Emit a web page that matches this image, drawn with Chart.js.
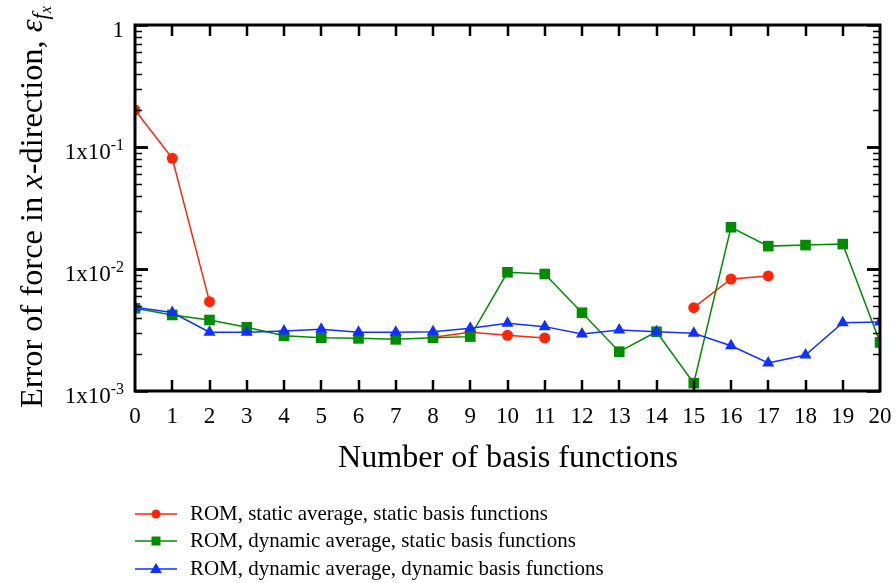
<!DOCTYPE html>
<html>
<head>
<meta charset="utf-8">
<script src="https://cdn.jsdelivr.net/npm/chart.js@4"></script>
<style>
  html, body { margin: 0; padding: 0; background: #fff; }
  canvas { display: block; }
</style>
</head>
<body>
<canvas id="errChart" width="896" height="583"></canvas>
<script>
// number of basis functions on the x axis
const basisCounts = [0, 1, 2, 3, 4, 5, 6, 7, 8, 9, 10, 11, 12, 13, 14, 15, 16, 17, 18, 19, 20];

// error of force in x-direction, one value per basis count (null = no run)
const staticAvgStatic = [0.201, 0.0807, 0.0054, null, null, null, null, null, 0.00276, 0.00303,
    0.00286, 0.00272, null, null, null, 0.00482, 0.00828, 0.00877, null, null, null];
const dynAvgStatic = [0.00476, 0.0042, 0.00382, 0.00333, 0.00284, 0.00273, 0.0027, 0.00265, 0.00273, 0.00279,
    0.0094, 0.0091, 0.00438, 0.0021, 0.00306, 0.00116, 0.022, 0.0154, 0.0157, 0.016, 0.0025];
const dynAvgDyn = [0.00485, 0.0044, 0.00303, 0.00303, 0.0031, 0.0032, 0.00303, 0.00303, 0.00306, 0.00327,
    0.00359, 0.00337, 0.00293, 0.00316, 0.00306, 0.00297, 0.00235, 0.0017, 0.00197, 0.00363, 0.00368];

const seriesLabels = [
    'ROM, static average, static basis functions',
    'ROM, dynamic average, static basis functions',
    'ROM, dynamic average, dynamic basis functions'
];

// y tick labels: mantissa and exponent, '' exponent means plain text
const yTickValues = [1, 0.1, 0.01, 0.001];
const yTickBase = ['1', '1x10', '1x10', '1x10'];
const yTickExp = ['', '-1', '-2', '-3'];

const colors = {
    red: 'rgb(255, 38, 8)',
    green: 'rgb(0, 140, 0)',
    blue: 'rgb(16, 48, 255)'
};

const SERIF = "'Liberation Serif', 'DejaVu Serif', serif";

const toPoints = (values) => basisCounts.map((x, i) => ({ x: x, y: values[i] }));

const datasets = [
    {
        label: seriesLabels[0],
        data: toPoints(staticAvgStatic),
        borderColor: colors.red,
        backgroundColor: colors.red,
        pointStyle: 'circle',
        pointRadius: 5.5,
        order: 3
    },
    {
        label: seriesLabels[1],
        data: toPoints(dynAvgStatic),
        borderColor: colors.green,
        backgroundColor: colors.green,
        pointStyle: 'rect',
        pointRadius: 7.5,
        order: 2
    },
    {
        label: seriesLabels[2],
        data: toPoints(dynAvgDyn),
        borderColor: colors.blue,
        backgroundColor: colors.blue,
        pointStyle: 'triangle',
        pointRadius: 7,
        order: 1
    }
].map(ds => Object.assign(ds, {
    borderWidth: 1.5,
    pointBorderWidth: 0,
    pointHoverRadius: ds.pointRadius,
    spanGaps: false,
    tension: 0,
    clip: 0
}));

// write a string scaled so that it spans the given width
const fitFont = (ctx, text, target, base, style) => {
    ctx.font = `${style || ''} ${base}px ${SERIF}`;
    return base * target / ctx.measureText(text).width;
};

// frame, inward ticks, tick labels, titles and legend
const axesPlugin = {
    id: 'axesPlugin',
    afterDraw(chart) {
        const ctx = chart.ctx;
        const area = chart.chartArea;
        const xs = chart.scales.x;
        const ys = chart.scales.y;
        ctx.save();
        ctx.strokeStyle = '#000';
        ctx.fillStyle = '#000';

        // x ticks, top and bottom
        ctx.lineWidth = 2.5;
        basisCounts.forEach(v => {
            if (v === 0 || v === 20) return;
            const px = Math.round(xs.getPixelForValue(v));
            ctx.beginPath();
            ctx.moveTo(px, area.bottom);
            ctx.lineTo(px, area.bottom - 11);
            ctx.moveTo(px, area.top);
            ctx.lineTo(px, area.top + 11);
            ctx.stroke();
        });

        // y ticks, major and minor, left and right
        for (let e = -3; e < 0; e++) {
            for (let m = 1; m <= 10; m++) {
                const v = m * Math.pow(10, e);
                const py = Math.round(ys.getPixelForValue(v)) + 0.5;
                const major = (m === 1 || m === 10);
                const len = major ? 13 : 7;
                ctx.lineWidth = major ? 2.5 : 1.5;
                ctx.beginPath();
                ctx.moveTo(area.left, py);
                ctx.lineTo(area.left + len, py);
                ctx.moveTo(area.right, py);
                ctx.lineTo(area.right - len, py);
                ctx.stroke();
            }
        }

        // frame
        ctx.lineWidth = 3;
        ctx.strokeRect(area.left, area.top, area.right - area.left, area.bottom - area.top);

        // x tick labels
        ctx.font = `23px ${SERIF}`;
        ctx.textAlign = 'center';
        ctx.textBaseline = 'alphabetic';
        basisCounts.forEach(v => {
            ctx.fillText(String(v), xs.getPixelForValue(v), area.bottom + 32);
        });

        // y tick labels with superscript exponent
        yTickValues.forEach((v, i) => {
            const py = ys.getPixelForValue(v);
            const right = area.left - 11;
            ctx.textAlign = 'right';
            let supW = 0;
            if (yTickExp[i]) {
                ctx.font = `16px ${SERIF}`;
                supW = ctx.measureText(yTickExp[i]).width;
                ctx.fillText(yTickExp[i], right, py + 3);
            }
            ctx.font = `23px ${SERIF}`;
            ctx.fillText(yTickBase[i], right - supW, py + 12);
        });

        // x axis title
        const xTitle = 'Number of basis functions';
        const xSize = fitFont(ctx, xTitle, 340, 28);
        ctx.font = `${xSize}px ${SERIF}`;
        ctx.textAlign = 'left';
        ctx.fillText(xTitle, 338, 467);

        // y axis title, rotated, with italic math parts
        const parts = [
            { t: 'Error of force in ', s: 1, st: '', dy: 0 },
            { t: 'x', s: 1, st: 'italic', dy: 0 },
            { t: '-direction, ', s: 1, st: '', dy: 0 },
            { t: 'ε', s: 1, st: 'italic', dy: 0 },
            { t: 'f', s: 0.7, st: 'italic', dy: 5 },
            { t: 'x', s: 0.5, st: 'italic', dy: 8 }
        ];
        const base = 28;
        let total = 0;
        parts.forEach(p => {
            ctx.font = `${p.st} ${base * p.s}px ${SERIF}`;
            p.w = ctx.measureText(p.t).width;
            total += p.w;
        });
        const k = 402 / total;
        ctx.translate(42, 408);
        ctx.rotate(-Math.PI / 2);
        let cx = 0;
        parts.forEach(p => {
            ctx.font = `${p.st} ${base * p.s * k}px ${SERIF}`;
            ctx.fillText(p.t, cx, p.dy * k);
            cx += p.w * k;
        });
        ctx.setTransform(1, 0, 0, 1, 0, 0);

        // legend below the plot
        const legSize = fitFont(ctx, seriesLabels[0], 358, 18);
        const rows = [514, 541, 569];
        datasets.forEach((ds, i) => {
            const y = rows[i];
            ctx.strokeStyle = ds.borderColor;
            ctx.fillStyle = ds.backgroundColor;
            ctx.lineWidth = 1.5;
            ctx.beginPath();
            ctx.moveTo(135, y);
            ctx.lineTo(177, y);
            ctx.stroke();
            const r = i === 0 ? 4.5 : 5.5;
            ctx.beginPath();
            if (ds.pointStyle === 'circle') {
                ctx.arc(156, y, r, 0, Math.PI * 2);
            } else if (ds.pointStyle === 'rect') {
                ctx.rect(156 - 4.5, y - 4.5, 9, 9);
            } else {
                ctx.moveTo(156, y - 6);
                ctx.lineTo(156 + 6, y + 4);
                ctx.lineTo(156 - 6, y + 4);
                ctx.closePath();
            }
            ctx.fill();
            ctx.fillStyle = '#000';
            ctx.font = `${legSize}px ${SERIF}`;
            ctx.textAlign = 'left';
            ctx.fillText(ds.label, 190, y + 6);
        });
        ctx.restore();
    }
};

new Chart(document.getElementById('errChart').getContext('2d'), {
    type: 'line',
    data: { datasets },
    options: {
        responsive: false,
        animation: false,
        devicePixelRatio: 1,
        layout: { padding: { left: 135, top: 25, right: 16, bottom: 192 } },
        scales: {
            x: { type: 'linear', min: 0, max: 20, display: false },
            y: { type: 'logarithmic', min: 0.001, max: 1, display: false }
        },
        plugins: {
            legend: { display: false },
            tooltip: { enabled: false }
        }
    },
    plugins: [axesPlugin]
});
</script>
</body>
</html>
